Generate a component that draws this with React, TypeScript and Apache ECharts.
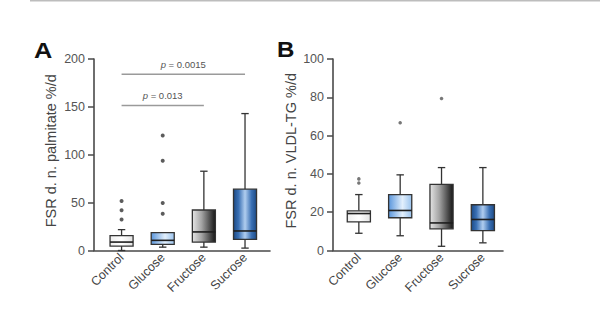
import React, { useEffect, useRef } from "react";
import * as echarts from "echarts";

const categories = ["Control", "Glucose", "Fructose", "Sucrose"];

// [min, q1, median, q3, max]
const palmitateBoxes = [
  [0, 4.6, 8.8, 15.5, 21.8],
  [3.5, 6.3, 10.6, 18.6, 18.6],
  [3.5, 8.8, 19.4, 42.3, 82.8],
  [2.5, 11.6, 20.4, 64, 143],
];
const palmitateOutliers = [
  [0, 51.8],
  [0, 42],
  [0, 32.4],
  [1, 120],
  [1, 93.7],
  [1, 49.6],
  [1, 38.4],
];
const vldlBoxes = [
  [9, 15, 19.3, 20.7, 29.2],
  [7.7, 17.1, 20.9, 29.2, 39.5],
  [2.2, 11.3, 14.4, 34.5, 43.3],
  [4, 10.4, 16.2, 23.9, 43.3],
];
const vldlOutliers = [
  [0, 37.4],
  [0, 35.3],
  [1, 66.7],
  [2, 79.4],
];
// [fromIndex, toIndex, y]
const sigBars = [
  [0, 3, 184],
  [0, 2, 151.5],
];
const sigLabels = ["0.0015", "0.013"];

const yTicksA = { min: 0, max: 200, interval: 50 };
const yTicksB = { min: 0, max: 100, interval: 20 };

const FONT = "'Liberation Sans', Arial, sans-serif";
const AXIS_COLOR = "#4a4a4a";

const fillStops = [
  [
    [0, "#eeeeee"],
    [0.5, "#ffffff"],
    [1, "#e2e2e2"],
  ],
  [
    [0, "#5a96dc"],
    [0.6, "#e2effc"],
    [1, "#9ac3ee"],
  ],
  [
    [0, "#e4e4e4"],
    [0.4, "#a4a4a4"],
    [1, "#161616"],
  ],
  [
    [0, "#1c4a86"],
    [0.22, "#3a70b4"],
    [0.5, "#b0cdef"],
    [0.78, "#3a70b4"],
    [1, "#1c4a86"],
  ],
];

function makeFill(i: number) {
  return new echarts.graphic.LinearGradient(
    0,
    0,
    1,
    0,
    fillStops[i].map((s) => ({ offset: s[0] as number, color: s[1] as string }))
  );
}

function boxRender(params: any, api: any) {
  const idx = api.value(0);
  const pLo = api.coord([idx, api.value(1)]);
  const pQ1 = api.coord([idx, api.value(2)]);
  const pMed = api.coord([idx, api.value(3)]);
  const pQ3 = api.coord([idx, api.value(4)]);
  const pHi = api.coord([idx, api.value(5)]);
  const unit = api.size([1, 0])[0];
  const bw = unit * 0.56;
  const cw = unit * 0.18;
  const cx = pLo[0];
  const ls = { stroke: "#333", lineWidth: 1.3 };
  return {
    type: "group",
    children: [
      { type: "line", shape: { x1: cx, y1: pQ1[1], x2: cx, y2: pLo[1] }, style: ls },
      { type: "line", shape: { x1: cx, y1: pQ3[1], x2: cx, y2: pHi[1] }, style: ls },
      { type: "line", shape: { x1: cx - cw / 2, y1: pLo[1], x2: cx + cw / 2, y2: pLo[1] }, style: ls },
      { type: "line", shape: { x1: cx - cw / 2, y1: pHi[1], x2: cx + cw / 2, y2: pHi[1] }, style: ls },
      {
        type: "rect",
        shape: { x: cx - bw / 2, y: pQ3[1], width: bw, height: pQ1[1] - pQ3[1] },
        style: { fill: makeFill(idx), stroke: "#333", lineWidth: 1.3 },
      },
      {
        type: "line",
        shape: { x1: cx - bw / 2, y1: pMed[1], x2: cx + bw / 2, y2: pMed[1] },
        style: { stroke: "#1e1e1e", lineWidth: 1.6 },
      },
    ],
  };
}

function sigRender(params: any, api: any) {
  const a = api.coord([api.value(0), api.value(2)]);
  const b = api.coord([api.value(1), api.value(2)]);
  const label = sigLabels[params.dataIndex];
  return {
    type: "group",
    children: [
      {
        type: "line",
        shape: { x1: a[0], y1: a[1], x2: b[0], y2: b[1] },
        style: { stroke: "#9a9a9a", lineWidth: 1.5 },
      },
      {
        type: "text",
        style: {
          x: (a[0] + b[0]) / 2,
          y: a[1] - 5,
          text: "{i|p} = " + label,
          rich: { i: { fontStyle: "italic", fontSize: 9.5, fill: "#555", fontFamily: FONT } },
          fontSize: 9.5,
          fontFamily: FONT,
          fill: "#555",
          align: "center",
          verticalAlign: "bottom",
        },
      },
    ],
  };
}

function xAxisCfg(gridIndex: number, min: number, max: number) {
  return {
    type: "value",
    gridIndex,
    min,
    max,
    axisLine: { show: true, onZero: false, lineStyle: { color: AXIS_COLOR, width: 1.6 } },
    axisTick: { show: false },
    splitLine: { show: false },
    axisLabel: {
      customValues: [0, 1, 2, 3],
      formatter: (v: number) => categories[Math.round(v)] ?? "",
      rotate: 45,
      fontSize: 12.5,
      color: "#444",
      fontFamily: FONT,
      margin: 5,
    },
  };
}

function yAxisCfg(gridIndex: number, t: any, name: string, nameGap: number) {
  return {
    type: "value",
    gridIndex,
    min: t.min,
    max: t.max,
    interval: t.interval,
    name,
    nameLocation: "middle",
    nameGap,
    nameTextStyle: { fontSize: 14.5, color: "#444", fontFamily: FONT, padding: [0, 0, 0, 8] },
    axisLine: { show: true, onZero: false, lineStyle: { color: AXIS_COLOR, width: 1.6 } },
    axisTick: { show: true, length: 6, lineStyle: { color: AXIS_COLOR, width: 1.5 } },
    splitLine: { show: false },
    axisLabel: { fontSize: 12.5, color: "#555", fontFamily: FONT, margin: 9 },
  };
}

export default function App() {
  const ref = useRef<HTMLDivElement>(null);
  useEffect(() => {
    if (!ref.current) return;
    const chart = echarts.init(ref.current, undefined, { renderer: "svg" });
    chart.setOption({
      animation: false,
      backgroundColor: "#ffffff",
      grid: [
        { left: 94, top: 59, width: 176, height: 191.5 },
        { left: 333, top: 59, width: 170, height: 191.5 },
      ],
      xAxis: [xAxisCfg(0, -0.67, 3.607), xAxisCfg(1, -0.625, 3.487)],
      yAxis: [
        yAxisCfg(0, yTicksA, "FSR d. n. palmitate %/d", 36),
        yAxisCfg(1, yTicksB, "FSR d. n. VLDL-TG %/d", 35),
      ],
      graphic: [
        {
          type: "line",
          shape: { x1: 30, y1: 0.75, x2: 600, y2: 0.75 },
          style: { stroke: "#bdbdbd", lineWidth: 1.5 },
        },
        {
          type: "text",
          x: 34,
          y: 40,
          scaleX: 1.18,
          style: { text: "A", fontSize: 21.5, fontWeight: "bold", fill: "#111", fontFamily: FONT },
        },
        {
          type: "text",
          x: 277,
          y: 38.5,
          scaleX: 1.12,
          style: { text: "B", fontSize: 21.5, fontWeight: "bold", fill: "#111", fontFamily: FONT },
        },
      ],
      series: [
        {
          type: "custom",
          xAxisIndex: 0,
          yAxisIndex: 0,
          renderItem: boxRender,
          encode: { x: 0, y: [1, 2, 3, 4, 5] },
          data: palmitateBoxes.map((b, i) => [i, ...b]),
          z: 2,
        },
        {
          type: "scatter",
          xAxisIndex: 0,
          yAxisIndex: 0,
          data: palmitateOutliers,
          symbolSize: 4,
          itemStyle: { color: "#333" },
          z: 3,
        },
        {
          type: "custom",
          xAxisIndex: 0,
          yAxisIndex: 0,
          renderItem: sigRender,
          encode: { x: [0, 1], y: 2 },
          data: sigBars,
          z: 3,
        },
        {
          type: "custom",
          xAxisIndex: 1,
          yAxisIndex: 1,
          renderItem: boxRender,
          encode: { x: 0, y: [1, 2, 3, 4, 5] },
          data: vldlBoxes.map((b, i) => [i, ...b]),
          z: 2,
        },
        {
          type: "scatter",
          xAxisIndex: 1,
          yAxisIndex: 1,
          data: vldlOutliers,
          symbolSize: 3.5,
          itemStyle: { color: "#555" },
          z: 3,
        },
      ],
    });
    return () => chart.dispose();
  }, []);
  return (
    <div
      ref={ref}
      style={{ position: "fixed", left: 0, top: 0, width: 600, height: 321, background: "#fff" }}
    />
  );
}
